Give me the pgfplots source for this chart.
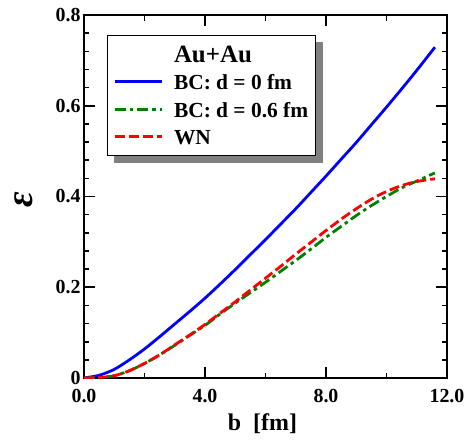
\documentclass[border=0pt]{standalone}
\usepackage{pgfplots}
\pgfplotsset{compat=1.18}
\usepackage{fontspec}
\setmainfont{Liberation Serif}

\definecolor{bcblue}{RGB}{0,0,255}
\definecolor{bcgreen}{RGB}{0,128,0}
\definecolor{wnred}{RGB}{255,0,0}

\begin{document}
\begin{tikzpicture}
\begin{axis}[
    scale only axis,
    width=363bp, height=363bp,
    xmin=0, xmax=12,
    ymin=0, ymax=0.8,
    xtick={0,4,8,12},
    xticklabels={0.0,4.0,8.0,12.0},
    minor xtick={2,6,10},
    ytick={0,0.2,0.4,0.6,0.8},
    yticklabels={0,0.2,0.4,0.6,0.8},
    minor ytick={0.04,0.08,0.12,0.16,0.24,0.28,0.32,0.36,0.44,0.48,0.52,0.56,0.64,0.68,0.72,0.76},
    tick pos=both,
    tick align=inside,
    major tick length=11bp,
    minor tick length=5.5bp,
    tick style={black, line width=1.6bp},
    axis line style={line width=2.3bp},
    tick label style={font=\fontsize{20}{20}\selectfont\bfseries},
    xticklabel style={yshift=-8bp},
    xlabel={\fontsize{24}{24}\selectfont\bfseries b\ \ [fm]},
    ylabel={\fontsize{38}{38}\selectfont\bfseries\itshape ε},
    every axis x label/.style={at={(axis description cs:0.4917,0)}, anchor=base, yshift=-52bp},
    every axis y label/.style={at={(axis description cs:-0.1653,0.49)}, rotate=90, anchor=center},
    legend cell align=left,
    legend image code/.code={\draw[#1] (0bp,0bp) -- (47.3bp,0bp);},
    legend style={
        name=leg,
        at={(0.0642,0.945)}, anchor=north west,
        draw=black, line width=1bp, fill=white,
        inner xsep=5.4bp, inner ysep=7bp,
        row sep=3.4bp, column sep=8.7bp,
        font=\fontsize{21.5}{24}\selectfont\bfseries,
        nodes={inner xsep=2bp, inner ysep=0bp, text height=20bp, text depth=4bp},
        row 1/.style={nodes={text height=23bp}},
    },
]
\addlegendimage{empty legend}
\addlegendentry{\fontsize{25}{28}\selectfont Au+Au}

% BC, d = 0 fm
\addplot[color=bcblue, line width=2.8bp, smooth] coordinates {
    (0,0) (0.5,0.006) (1,0.019) (1.5,0.04) (2,0.064) (2.5,0.091)
    (3,0.119) (3.5,0.147) (4,0.176) (4.5,0.207) (5,0.239) (5.5,0.272)
    (6,0.305) (6.5,0.339) (7,0.373) (7.5,0.409) (8,0.445) (8.5,0.482)
    (9,0.519) (9.5,0.558) (10,0.597) (10.5,0.637) (11,0.678) (11.6,0.729)
};
\addlegendentry{BC: d = 0 fm}

% BC, d = 0.6 fm
\addplot[color=bcgreen, line width=2.8bp, smooth,
    dash pattern=on 11bp off 4bp on 3.5bp off 4bp] coordinates {
    (0,0) (0.5,0.001) (1,0.005) (1.5,0.016) (2,0.032) (2.5,0.051)
    (3,0.072) (3.5,0.094) (4,0.116) (4.5,0.141) (5,0.165) (5.5,0.188)
    (6,0.211) (6.5,0.235) (7,0.259) (7.5,0.284) (8,0.31) (8.5,0.334)
    (9,0.358) (9.5,0.38) (10,0.4) (10.5,0.419) (11,0.434) (11.6,0.452)
};
\addlegendentry{BC: d = 0.6 fm}

% WN
\addplot[color=wnred, line width=2.8bp, smooth,
    dash pattern=on 10bp off 4bp] coordinates {
    (0,0) (0.5,0.001) (1,0.005) (1.5,0.016) (2,0.032) (2.5,0.051)
    (3,0.073) (3.5,0.095) (4,0.118) (4.5,0.143) (5,0.168) (5.5,0.194)
    (6,0.22) (6.5,0.246) (7,0.273) (7.5,0.299) (8,0.325) (8.5,0.35)
    (9,0.373) (9.5,0.394) (10,0.411) (10.5,0.424) (11,0.433) (11.6,0.439)
};
\addlegendentry{WN}
\end{axis}
% legend shadow, drawn round the box
\fill[black!50] ([xshift=7bp,yshift=-7bp]leg.south west) rectangle ([xshift=7bp]leg.south east);
\fill[black!50] ([yshift=-7bp]leg.north east) rectangle ([xshift=7bp,yshift=-7bp]leg.south east);
\pgfresetboundingbox
\path[use as bounding box] (-84bp,-62bp) rectangle (388bp,378bp);
\end{tikzpicture}
\end{document}
